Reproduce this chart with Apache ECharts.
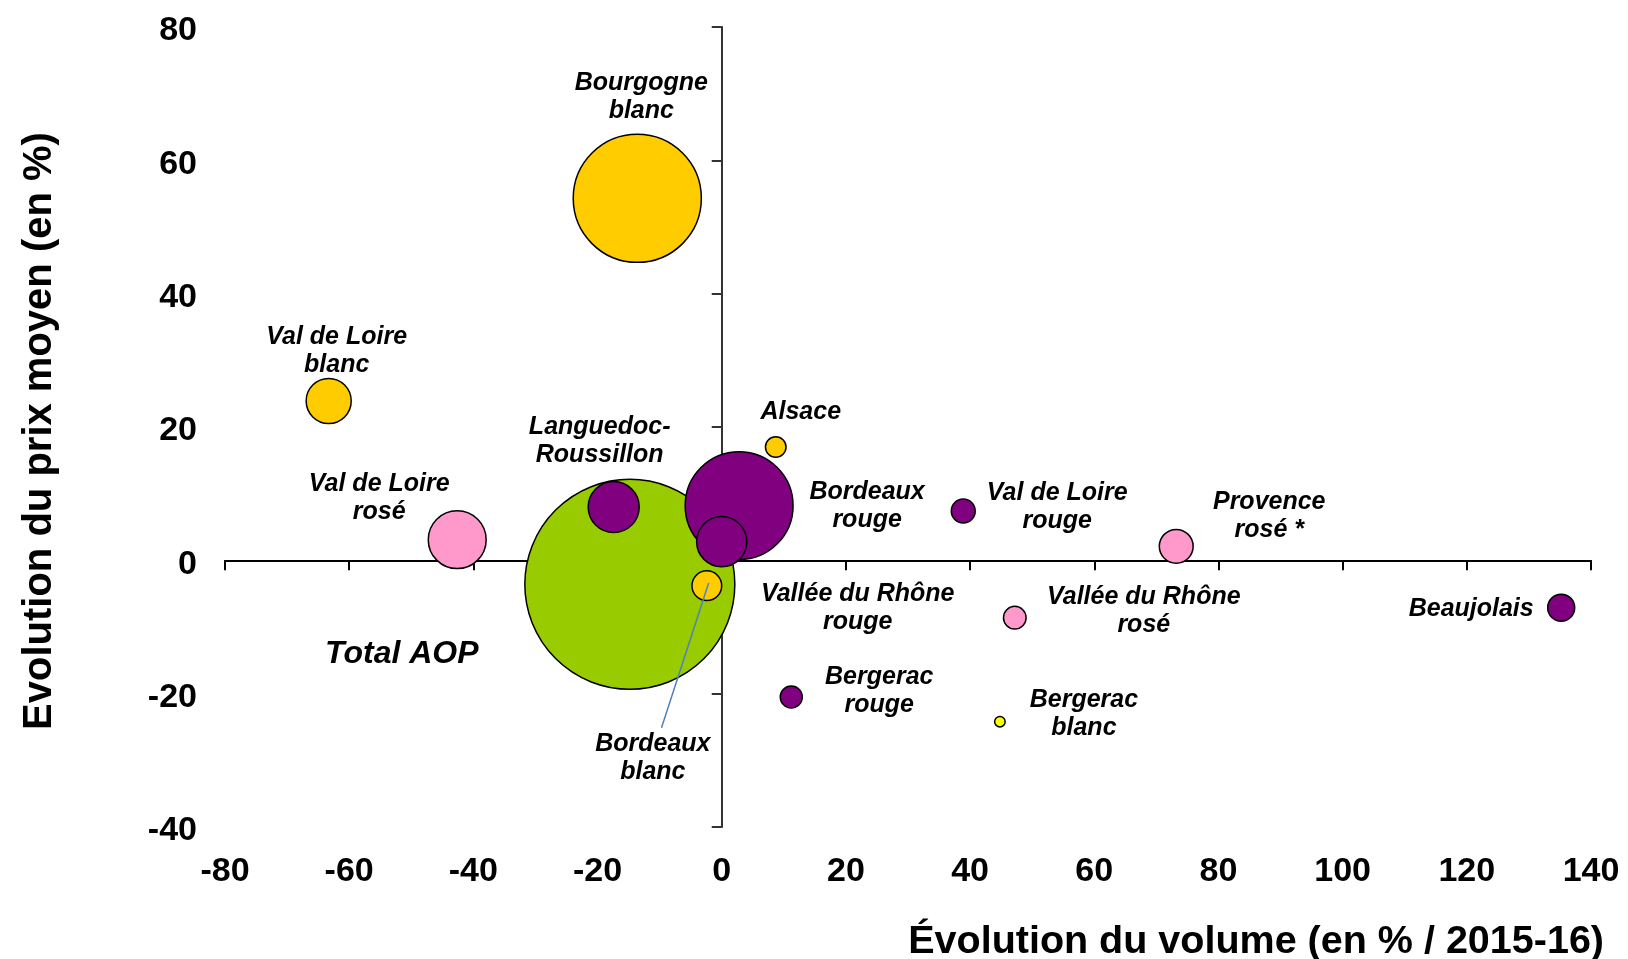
<!DOCTYPE html>
<html>
<head>
<meta charset="utf-8">
<script src="https://cdn.jsdelivr.net/npm/echarts@6/dist/echarts.min.js"></script>
<style>
  html, body { margin: 0; padding: 0; background: #fff; }
</style>
</head>
<body>
<div id="main" style="width: 1628px; height: 959px"></div>
<script>
var names = ["Total AOP", "Bourgogne\nblanc", "Bordeaux\nrouge", "Vallée du Rhône\nrouge", "Languedoc-\nRoussillon",
  "Bordeaux\nblanc", "Val de Loire\nblanc", "Val de Loire\nrosé", "Alsace", "Val de Loire\nrouge",
  "Provence\nrosé *", "Vallée du Rhône\nrosé", "Beaujolais", "Bergerac\nrouge", "Bergerac\nblanc"];
var volumeChange = [-14.8, -13.6, 2.8, 0.0, -17.4, -2.4, -63.3, -42.6, 8.7, 38.9, 73.2, 47.2, 135.2, 11.2, 44.8];
var priceChange = [-3.6, 54.3, 8.2, 2.8, 8.0, -3.8, 23.9, 3.1, 17.0, 7.4, 2.1, -8.6, -7.1, -20.5, -24.2];
var bubbleSize = [100, 37.2, 26.4, 5.7, 5.9, 2.0, 4.6, 7.6, 0.96, 1.3, 2.6, 1.16, 1.65, 1.1, 0.25];
var wineType = ["total", "blanc", "rouge", "rouge", "rouge", "blanc", "blanc", "rose", "blanc", "rouge",
  "rose", "rose", "rouge", "rouge", "blanc2"];

var xTicks = { min: -80, max: 140, step: 20 };
var yTicks = { min: -40, max: 80, step: 20 };

// layout / style only
var typeColors = { total: "#99CC00", blanc: "#FFCC00", blanc2: "#FFFF00", rouge: "#800080", rose: "#FF99CC" };
var labelOffsets = [[-228, 70], [4, -101], [128, 0], [136, 66], [-14, -66], [-54, 172], [8, -50], [-78, -42],
  [25, -35], [94, -4], [93, -30], [129, -7], [-90, 1], [88, -6], [84, -8]];

var font = "'Liberation Sans', Arial, Helvetica, sans-serif";

var chartDom = document.getElementById("main");
var myChart = echarts.init(chartDom);

var seriesData = names.map(function (n, i) {
  return {
    name: n,
    value: [volumeChange[i], priceChange[i], bubbleSize[i]],
    itemStyle: { color: typeColors[wineType[i]] },
    label: {
      offset: labelOffsets[i],
      fontSize: i === 0 ? 32 : 25,
      lineHeight: i === 0 ? 34 : 28
    }
  };
});

var option = {
  animation: false,
  textStyle: { fontFamily: font },
  grid: { left: 225, right: 37, top: 27, bottom: 132 },
  xAxis: [
    {
      type: "value",
      min: xTicks.min, max: xTicks.max, interval: xTicks.step,
      axisLine: { show: true, onZero: true, lineStyle: { color: "#000", width: 2 } },
      axisTick: { show: true, length: 10, lineStyle: { color: "#000", width: 2 } },
      axisLabel: { show: false },
      splitLine: { show: false }
    },
    {
      type: "value",
      position: "bottom",
      min: xTicks.min, max: xTicks.max, interval: xTicks.step,
      axisLine: { show: false, onZero: false },
      axisTick: { show: false },
      axisLabel: { show: true, margin: 28, fontSize: 34, fontWeight: "bold", color: "#000", fontFamily: font },
      splitLine: { show: false }
    }
  ],
  yAxis: [
    {
      type: "value",
      min: yTicks.min, max: yTicks.max, interval: yTicks.step,
      axisLine: { show: true, onZero: true, lineStyle: { color: "#333", width: 2 } },
      axisTick: { show: true, length: 10, lineStyle: { color: "#333", width: 2 } },
      axisLabel: { show: false },
      splitLine: { show: false }
    },
    {
      type: "value",
      position: "left",
      min: yTicks.min, max: yTicks.max, interval: yTicks.step,
      axisLine: { show: false, onZero: false },
      axisTick: { show: false },
      axisLabel: {
        show: true, margin: 28, color: "#000",
        formatter: "{v|{value}}",
        rich: {
          v: { fontSize: 34, fontWeight: "bold", color: "#000", fontFamily: font, padding: [8, 0, 0, 0] }
        }
      },
      splitLine: { show: false }
    }
  ],
  graphic: [
    {
      type: "text",
      x: 40, y: 431,
      rotation: Math.PI / 2,
      style: {
        text: "Evolution du prix moyen (en %)",
        font: "bold 40px " + font,
        fill: "#000",
        align: "center",
        verticalAlign: "middle"
      }
    },
    {
      type: "text",
      x: 1604, y: 942,
      style: {
        text: "Évolution du volume (en % / 2015-16)",
        font: "bold 39.5px " + font,
        fill: "#000",
        align: "right",
        verticalAlign: "middle"
      }
    }
  ],
  series: [
    {
      type: "scatter",
      xAxisIndex: 0,
      yAxisIndex: 0,
      data: seriesData,
      symbolSize: function (val) {
        return 21 * Math.sqrt(val[2]);
      },
      itemStyle: { borderColor: "#000", borderWidth: 1.5, opacity: 1 },
      label: {
        show: true,
        position: "inside",
        formatter: "{b}",
        color: "#000",
        fontStyle: "italic",
        fontWeight: "bold",
        fontFamily: font,
        align: "center",
        verticalAlign: "middle"
      },
      emphasis: { disabled: true },
      markLine: {
        silent: true,
        symbol: "none",
        label: { show: false },
        lineStyle: { color: "#4F81BD", width: 1.5, type: "solid" },
        data: [[{ coord: [-2.1, -3.4] }, { coord: [-9.7, -25.1] }]]
      }
    }
  ]
};
myChart.setOption(option);
</script>
</body>
</html>
